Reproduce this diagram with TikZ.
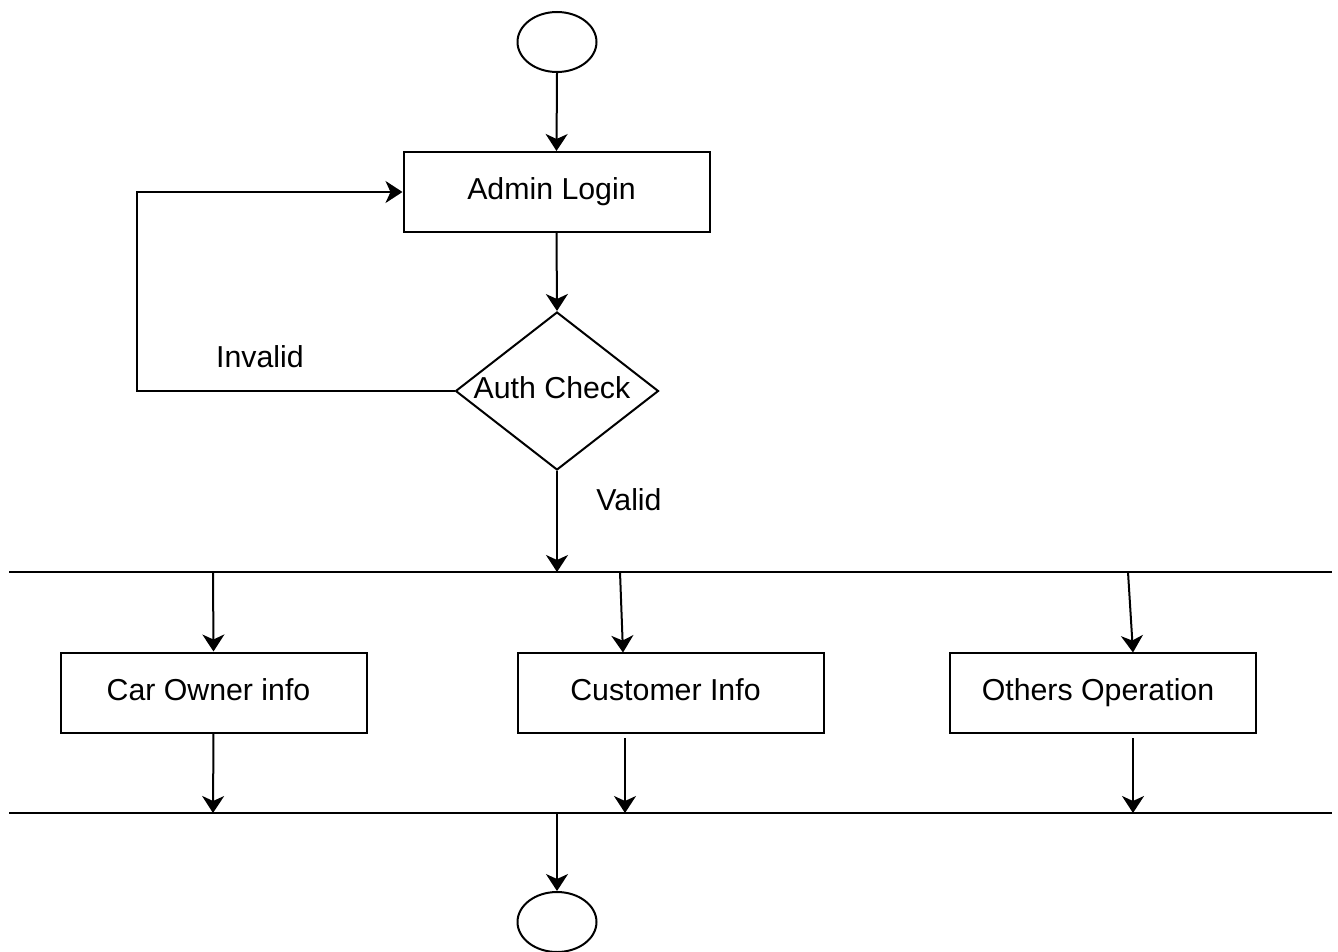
\documentclass[tikz,border=0pt]{standalone}
\usepackage{fontspec}
\setmainfont{Liberation Sans}
\usetikzlibrary{shapes.geometric,arrows.meta}
\begin{document}
\begin{tikzpicture}[x=1pt,y=-1pt,
  line width=2pt,
  font=\fontsize{30.3}{35}\selectfont,
  flow/.style={-{Stealth[length=17pt,width=22pt,inset=5pt]}},
  shiftedtext/.style={text height=21pt,text depth=6pt,execute at end node={\hspace*{10pt}}},
  box/.style={draw,rectangle,inner sep=0pt,minimum width=306pt,minimum height=80pt,shiftedtext},
  terminal/.style={draw,ellipse,inner sep=0pt,minimum width=79pt,minimum height=60pt},
  decision/.style={draw,diamond,aspect=1.28,inner sep=0pt,minimum width=203pt,minimum height=158pt,shiftedtext},
  lbl/.style={inner sep=0pt}]
\useasboundingbox (0,0) rectangle (1338,952);

% start / end
\node[terminal] (start) at (557,42) {};
\node[terminal] (stop) at (557,922) {};

% login and authentication
\node[box] (login) at (556.5,192) {Admin Login};
\node[decision] (auth) at (557,391) {Auth Check};

% branch boxes
\node[box] (owner) at (213.5,692.5) {Car Owner info};
\node[box] (cust) at (670.5,692.5) {Customer Info};
\node[box] (other) at (1103,692.5) {Others Operation};

% labels
\node[lbl] (invalid) at (260,357) {Invalid};
\node[lbl] (valid) at (629,500) {Valid};

% fork and join bars
\coordinate (forkL) at (9,572);
\coordinate (forkR) at (1332,572);
\coordinate (joinL) at (9,813);
\coordinate (joinR) at (1332,813);
\draw (forkL) -- (forkR);
\draw (joinL) -- (joinR);

% points on the bars
\coordinate (fkIn) at (557,572);
\coordinate (fk1) at (213,572);
\coordinate (fk2) at (620,572);
\coordinate (fk3) at (1128,572);
\coordinate (jn1) at (213,813);
\coordinate (jn2) at (625,813);
\coordinate (jn3) at (1133,813);
\coordinate (jnOut) at (557,813);
\coordinate (loopA) at (137,391);
\coordinate (loopB) at (137,192);

% connectors
\draw[flow] (start.south) -- (login.north);
\draw[flow] (login.south) -- (auth.north);
\draw[flow] (auth.west) -- (loopA) -- (loopB) -- (login.west);
\draw[flow] (auth.south) -- (fkIn);
\draw[flow] (fk1) -- (owner.north);
\draw[flow] (fk2) -- (623,652.5);
\draw[flow] (fk3) -- (1133,652.5);
\draw[flow] (owner.south) -- (jn1);
\draw[flow] (625,738) -- (jn2);
\draw[flow] (1133,738) -- (jn3);
\draw[flow] (jnOut) -- (stop.north);
\end{tikzpicture}
\end{document}
